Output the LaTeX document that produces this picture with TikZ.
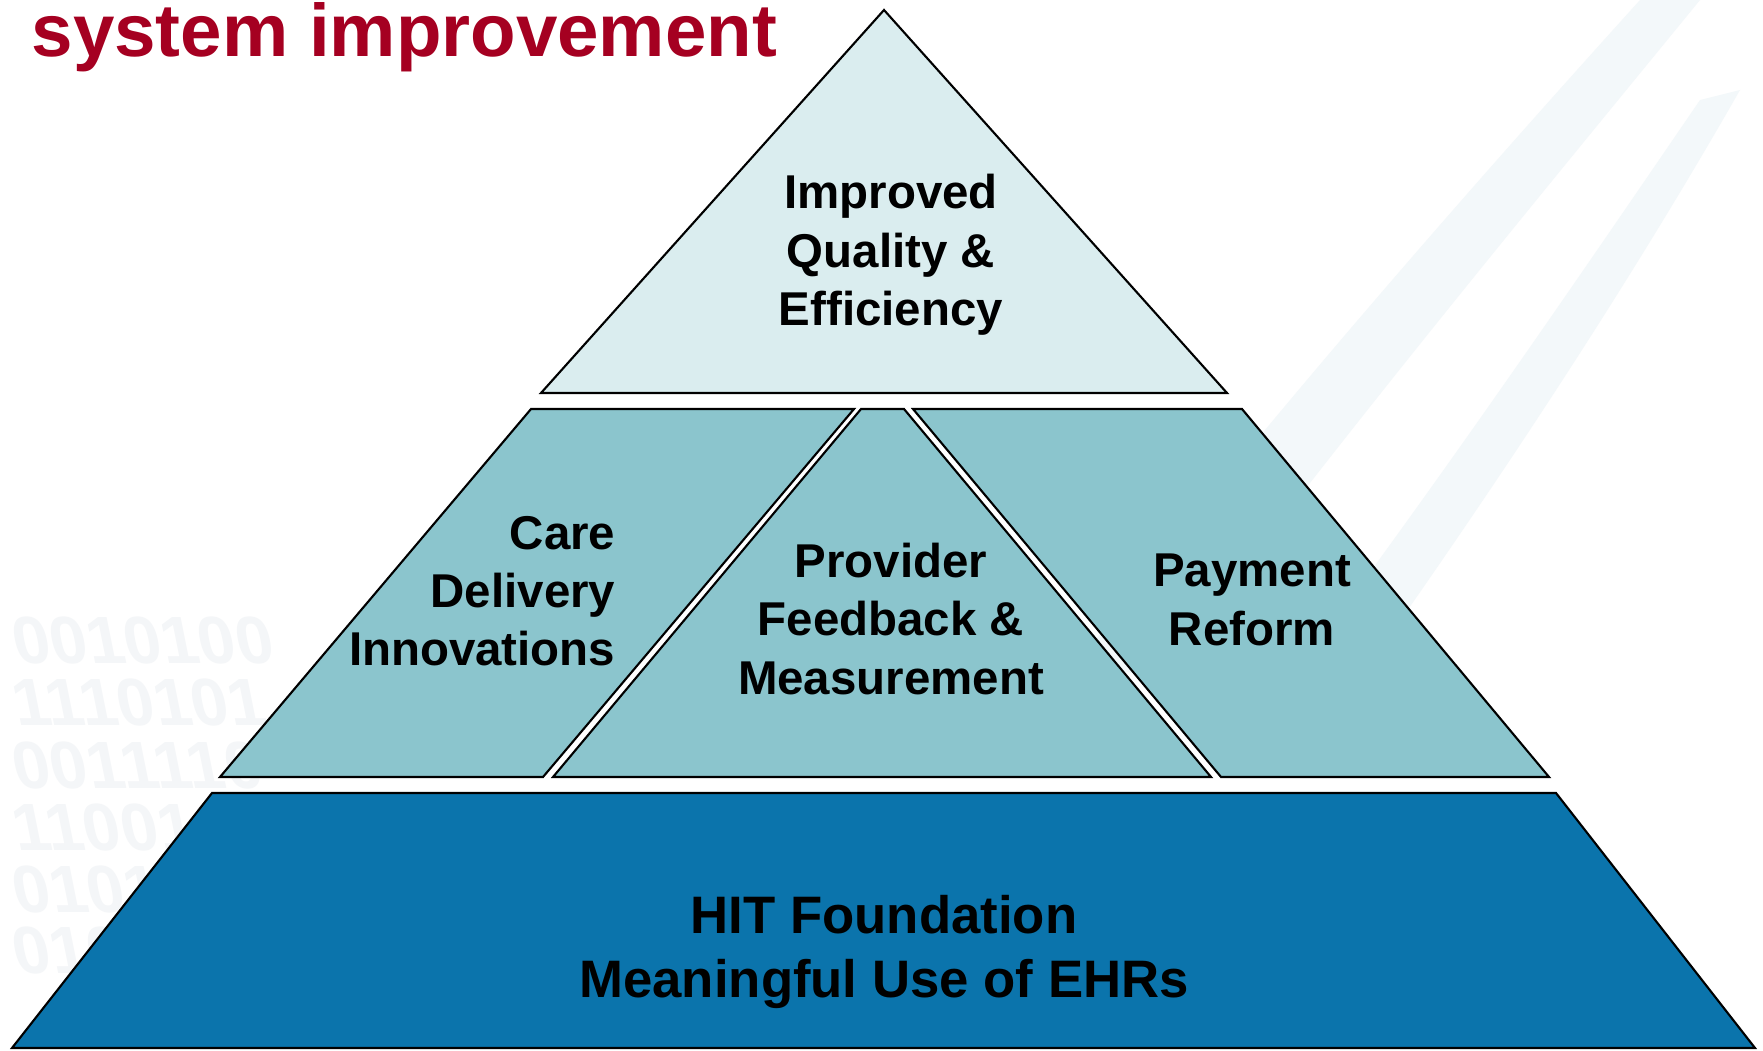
\documentclass[tikz,border=0pt]{standalone}
\usepackage{fontspec}
\setmainfont{Liberation Sans}
\usepackage{xcolor}
\usetikzlibrary{positioning}

\definecolor{titlered}{HTML}{A50021}
\definecolor{toplight}{HTML}{DAEDEF}
\definecolor{midteal}{HTML}{8BC5CD}
\definecolor{baseblue}{HTML}{0B74AC}
\definecolor{swoosh}{HTML}{F3F8FA}
\definecolor{digitgray}{HTML}{F4F6F8}

\tikzset{
  tier/.style={draw=black, line width=0.6pt, line join=miter},
  tierlabel/.style={font=\bfseries\fontsize{13.5}{16.6}\selectfont, align=center, inner sep=0pt},
  baselabel/.style={font=\bfseries\fontsize{15}{18.4}\selectfont, align=center, inner sep=0pt},
  watermark/.style={font=\bfseries\fontsize{19}{19}\selectfont, text=digitgray, anchor=west, inner sep=0pt, xslant=-0.2}
}

\begin{document}
\begin{tikzpicture}[x=0.1mm, y=-0.1mm]
    \useasboundingbox (0,0) rectangle (1763,1050);
    \fill[white] (0,0) rectangle (1763,1050);

    % background swooshes
    \fill[swoosh] (1080,660) .. controls (1250,440) and (1450,210) .. (1640,0) -- (1700,0) .. controls (1520,220) and (1330,450) .. (1160,680) -- cycle;
    \fill[swoosh] (1260,720) .. controls (1420,510) and (1570,290) .. (1700,100) -- (1740,90) .. controls (1620,300) and (1480,510) .. (1330,720) -- cycle;

    % background digits
    \node[watermark] (w1) at (12,641) {0010100};
    \node[watermark] (w2) at (12,703) {1110101};
    \node[watermark] (w3) at (12,765) {0011110};
    \node[watermark] (w4) at (12,827) {1100100};
    \node[watermark] (w5) at (12,889) {0101101};
    \node[watermark] (w6) at (12,950) {0101};

    % title
    \node[anchor=base west, inner sep=0pt, text=titlered, font=\bfseries\fontsize{21.2}{26}\selectfont] (title) at (31,57) {system improvement};

    % pyramid
    \filldraw[tier, fill=toplight] (884,10) -- (1227,393) -- (541,393) -- cycle;
    \filldraw[tier, fill=midteal] (531,409) -- (854,409) -- (543,777) -- (220,777) -- cycle;
    \filldraw[tier, fill=midteal] (861,409) -- (904,409) -- (1211,777) -- (553,777) -- cycle;
    \filldraw[tier, fill=midteal] (913,409) -- (1242,409) -- (1549,777) -- (1221,777) -- cycle;
    \filldraw[tier, fill=baseblue] (212,793) -- (1556,793) -- (1755,1048) -- (12,1048) -- cycle;

    % labels
    \node[tierlabel] (quality) at (891,255) {Improved\\Quality \&\\Efficiency};
    \node[tierlabel, align=right, anchor=east] (care) at (616,591) {Care\\Delivery\\Innovations};
    \node[tierlabel] (feedback) at (891,619) {Provider\\Feedback \&\\Measurement};
    \node[tierlabel] (payment) at (1252,600) {Payment\\Reform};
    \node[baselabel] (hit) at (884,952) {HIT Foundation\\Meaningful Use of EHRs};
\end{tikzpicture}
\end{document}
